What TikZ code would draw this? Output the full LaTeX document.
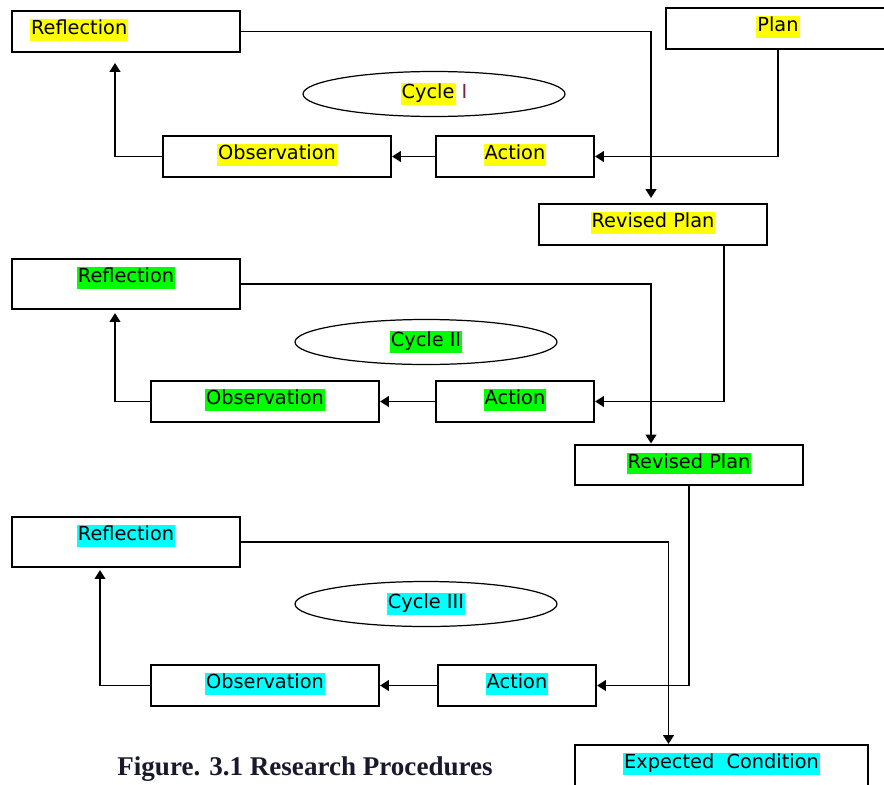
\documentclass[tikz,border=0pt]{standalone}
\usepackage{fontspec}
\setmainfont{DejaVu Sans}
\newfontfamily\capfont{Liberation Serif}
\usetikzlibrary{shapes.geometric,arrows.meta,calc}
\definecolor{hlyellow}{RGB}{255,255,0}
\definecolor{hlgreen}{RGB}{0,255,0}
\definecolor{hlcyan}{RGB}{0,255,255}
\definecolor{romancol}{RGB}{128,30,80}
\definecolor{capcol}{RGB}{25,25,45}
\newcommand{\hl}[2]{{\setlength{\fboxsep}{0.6pt}\colorbox{#1}{\rule[-2.8pt]{0pt}{11pt}#2}}}
\tikzset{
  box/.style={draw, line width=1.2pt, inner sep=0pt, minimum width=4.56cm,
    text height=13.5pt, text depth=9.75pt, font=\fontsize{11}{13}\selectfont},
  tallbox/.style={box, text depth=14.95pt},
  cyclebox/.style={ellipse, draw, line width=0.7pt, inner sep=0pt,
    minimum width=5.24cm, minimum height=0.9cm, font=\fontsize{11}{13}\selectfont},
  link/.style={line width=1.1pt, -{Triangle[length=5pt,width=6pt]}}
}
\begin{document}
\begin{tikzpicture}[x=0.02cm, y=-0.02cm]
  \useasboundingbox (0,0) rectangle (884,784);
  \node[box, text width=3.84cm, align=left] (refl1) at (126,31.5) {\hl{hlyellow}{Reflection}};
  \node[box, minimum width=4.48cm] (plan) at (778,28.5) {\hl{hlyellow}{Plan}};
  \node[cyclebox] (cyc1) at (434,94) {\hl{hlyellow}{Cycle} \textcolor{romancol}{I}};
  \node[box] (obs1) at (277,156.5) {\hl{hlyellow}{Observation}};
  \node[box, minimum width=3.16cm] (act1) at (515,156.5) {\hl{hlyellow}{Action}};
  \node[box] (rev1) at (653,224.5) {\hl{hlyellow}{Revised Plan}};

  \node[tallbox] (refl2) at (126,284) {\hl{hlgreen}{Reflection}};
  \node[cyclebox] (cyc2) at (426,342) {\hl{hlgreen}{Cycle II}};
  \node[box] (obs2) at (265,401.5) {\hl{hlgreen}{Observation}};
  \node[box, minimum width=3.16cm] (act2) at (515,401.5) {\hl{hlgreen}{Action}};
  \node[box] (rev2) at (689,465) {\hl{hlgreen}{Revised Plan}};

  \node[tallbox] (refl3) at (126,542) {\hl{hlcyan}{Reflection}};
  \node[cyclebox] (cyc3) at (426,604) {\hl{hlcyan}{Cycle III}};
  \node[box] (obs3) at (265,685.5) {\hl{hlcyan}{Observation}};
  \node[box, minimum width=3.16cm] (act3) at (517,685.5) {\hl{hlcyan}{Action}};
  \node[box, minimum width=5.86cm, text depth=17.8pt] (exp) at (721.5,772.5) {\hl{hlcyan}{Expected\ \ Condition}};

  \node[anchor=base, text=capcol, font=\capfont\bfseries\fontsize{15.4}{18}\selectfont] (caption) at (305,775) {Figure. 3.1 Research Procedures};

  \begin{scope}[link]
    \draw (plan.south) |- (act1.east);
    \draw (act1.west) -- (obs1.east);
    \draw (obs1.west) -| ($(refl1.south)+(-11,10)$);
    \draw (refl1.east) -| ($(rev1.north)+(-2,-5)$);
    \draw ($(rev1.south)+(71,0)$) |- (act2.east);
    \draw (act2.west) -- (obs2.east);
    \draw (obs2.west) -| ($(refl2.south)+(-11,3)$);
    \draw (refl2.east) -| ($(rev2.north)+(-38,0)$);
    \draw (rev2.south) |- (act3.east);
    \draw (act3.west) -- (obs3.east);
    \draw (obs3.west) -| ($(refl3.south)+(-26,2)$);
    \draw (refl3.east) -| ($(exp.north)+(-53,0)$);
  \end{scope}
\end{tikzpicture}
\end{document}
